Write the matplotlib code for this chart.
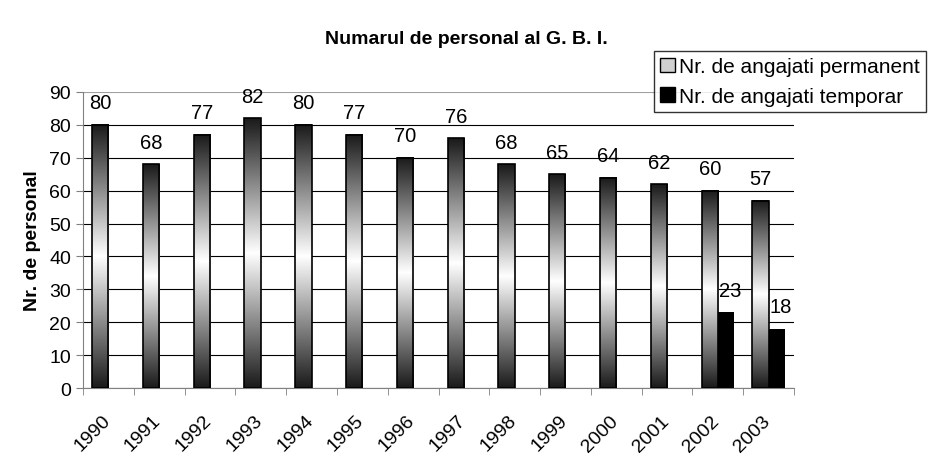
import numpy as np
import matplotlib.pyplot as plt
from matplotlib.patches import Patch
from matplotlib.colors import LinearSegmentedColormap
from matplotlib.transforms import ScaledTranslation

years = ["1990", "1991", "1992", "1993", "1994", "1995", "1996",
         "1997", "1998", "1999", "2000", "2001", "2002", "2003"]
permanent = [80, 68, 77, 82, 80, 77, 70, 76, 68, 65, 64, 62, 60, 57]
temporary = [0, 0, 0, 0, 0, 0, 0, 0, 0, 0, 0, 0, 23, 18]

plt.rcParams['font.family'] = ['Liberation Sans', 'DejaVu Sans']
fs = 14

fig = plt.figure(figsize=(9.33, 4.56), dpi=100)
ax = fig.add_axes([83 / 933, 1 - 389 / 456, (794 - 83) / 933, (389 - 93) / 456])

x = np.arange(len(years))
w = 0.32
cmap = LinearSegmentedColormap.from_list("shine", ["#1a1a1a", "#ffffff", "#1a1a1a"])
grad = np.linspace(0, 1, 256).reshape(-1, 1)

# permanent staff: gradient-filled bars
bars = ax.bar(x - w / 2, permanent, w, facecolor="none", edgecolor="black", linewidth=1.2, zorder=3)
for b in bars:
    x0, y0 = b.get_x(), b.get_y()
    ax.imshow(grad, cmap=cmap, aspect="auto", zorder=2,
              extent=[x0, x0 + b.get_width(), y0, y0 + b.get_height()])
for xi, v in zip(x, permanent):
    ax.text(xi - w / 2, v + 3.8, str(v), ha="center", va="bottom", fontsize=14.5)

# temporary staff
tb = ax.bar(x + w / 2, temporary, w, color="black", zorder=3)
for xi, v in zip(x, temporary):
    if v:
        ax.text(xi + w / 2 + 0.08, v + 3.8, str(v), ha="center", va="bottom", fontsize=14.5)

ax.set_xlim(-0.5, len(years) - 0.5)
ax.set_ylim(0, 90)
ax.set_yticks(range(0, 91, 10))
ax.tick_params(axis="y", labelsize=fs, length=5, color="#808080")
ax.set_xticks(x)
ax.set_xticklabels(years, rotation=45, ha="right", rotation_mode="anchor", fontsize=fs)
ax.tick_params(axis="x", which="major", length=0, pad=17)
for lab in ax.get_xticklabels():
    lab.set_transform(lab.get_transform() + ScaledTranslation(-5 / 72, 0, fig.dpi_scale_trans))
ax.set_xticks(np.arange(-0.5, len(years), 1), minor=True)
ax.tick_params(axis="x", which="minor", length=5, color="#808080")

ax.yaxis.grid(True, color="black", linewidth=0.8, zorder=0)
ax.get_ygridlines()[-1].set_color("#a0a0a0")
ax.set_axisbelow(True)
for s in ["top", "right"]:
    ax.spines[s].set_visible(False)
for s in ["left", "bottom"]:
    ax.spines[s].set_color("#808080")

ax.set_ylabel("Nr. de personal", fontsize=fs, fontweight="bold", labelpad=6)
fig.text(0.5, 1 - 39 / 456, "Numarul de personal al G. B. I.", ha="center", va="center",
         fontsize=14, fontweight="bold")

handles = [Patch(facecolor="#d0d0d0", edgecolor="black", label="Nr. de angajati permanent"),
           Patch(facecolor="black", edgecolor="black", label="Nr. de angajati temporar")]
leg = fig.legend(handles=handles, loc="upper left", bbox_to_anchor=(654 / 933, 1 - 52 / 456),
                 fontsize=15, frameon=True, fancybox=False, edgecolor="black",
                 handlelength=0.7, handleheight=0.7, handletextpad=0.2, borderpad=0.3,
                 labelspacing=0.5, borderaxespad=0)
leg.get_frame().set_linewidth(1)

fig.savefig("out.png", dpi=100)
